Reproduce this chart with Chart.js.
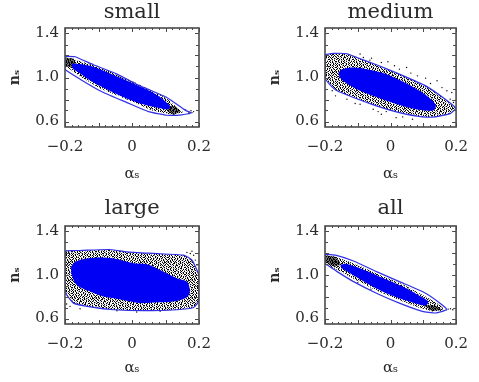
<!DOCTYPE html>
<html><head><meta charset="utf-8">
<style>html,body{margin:0;padding:0;background:#fff;width:479px;height:382px;overflow:hidden}
canvas{position:absolute;display:block}</style>
<script src="https://cdn.jsdelivr.net/npm/chart.js@4"></script></head><body>
<canvas id="c0" style="left:0;top:0"></canvas>
<canvas id="c1" style="left:240px;top:0"></canvas>
<canvas id="c2" style="left:0;top:190px"></canvas>
<canvas id="c3" style="left:240px;top:190px"></canvas>
<script>
const panelTitles = ['small','medium','large','all'];
const xTickValues = [-0.2,0,0.2];
const yTickValues = [0.6,1.0,1.4];
const xMinorStep = 0.02, yMinorStep = 0.1;

const smallContourX = [-0.2,-0.17,-0.115,-0.045,0.024,0.104,0.159,0.176,0.149,0.104,0.049,-0.015,-0.085,-0.155,-0.2,-0.2];
const smallContourY = [1.192,1.189,1.116,1.031,0.924,0.818,0.702,0.678,0.66,0.657,0.69,0.772,0.863,0.985,1.076,1.192];
const smallBlueX = [-0.18,-0.155,-0.115,-0.05,0.004,0.074,0.114,0.109,0.084,0.024,-0.045,-0.115,-0.155,-0.177,-0.18];
const smallBlueY = [1.128,1.122,1.097,1.015,0.945,0.842,0.742,0.712,0.721,0.763,0.848,0.955,1.037,1.085,1.128];
const smallBandX = [-0.2,-0.175,-0.105,-0.035,0.034,0.104,0.134,0.154,0.114,0.064,-0.015,-0.095,-0.155,-0.2,-0.2];
const smallBandY = [1.182,1.167,1.105,1.015,0.92,0.81,0.727,0.681,0.666,0.695,0.8,0.9,1.01,1.106,1.182];
const smallDenseAX = [-0.2,-0.175,-0.167,-0.18,-0.2,-0.2];
const smallDenseAY = [1.182,1.173,1.128,1.091,1.106,1.182];
const smallDenseBX = [0.104,0.129,0.146,0.124,0.106,0.104];
const smallDenseBY = [0.742,0.742,0.69,0.66,0.69,0.742];
const smallDotsX = [0.169,0.176,0.179,0.184,0.16,0.172];
const smallDotsY = [0.687,0.698,0.681,0.69,0.705,0.672];

const mediumContourX = [-0.2,-0.173,-0.133,-0.103,-0.043,0.027,0.107,0.167,0.199,0.182,0.137,0.097,0.027,-0.043,-0.113,-0.163,-0.188,-0.2,-0.2];
const mediumContourY = [1.207,1.219,1.216,1.182,1.116,1.031,0.924,0.803,0.721,0.672,0.642,0.642,0.681,0.742,0.818,0.879,0.945,1.0,1.207];
const mediumBlueX = [-0.158,-0.148,-0.113,-0.073,-0.023,0.037,0.097,0.137,0.132,0.097,0.037,-0.033,-0.093,-0.138,-0.155,-0.158];
const mediumBlueY = [1.046,1.076,1.091,1.076,1.04,0.964,0.863,0.757,0.702,0.702,0.742,0.812,0.879,0.955,1.0,1.046];
const mediumDotsX = [-0.083,-0.058,-0.028,-0.008,0.012,0.027,0.049,0.062,0.082,0.107,0.122,0.142,0.157,0.172,0.187,0.182,0.192,-0.063,-0.093,-0.178,-0.168,-0.133,-0.108,-0.093,-0.053,-0.038,-0.028,-0.013,0.017,0.037,0.067];
const mediumDotsY = [1.182,1.176,1.136,1.143,1.107,1.076,1.091,1.04,1.015,0.994,0.945,0.97,0.908,0.879,0.863,0.803,0.773,1.158,1.213,0.879,0.833,0.803,0.763,0.757,0.712,0.69,0.666,0.69,0.635,0.642,0.62];

const largeContourX = [-0.2,-0.155,-0.07,-0.016,0.064,0.154,0.179,0.199,0.199,0.184,0.134,0.034,-0.055,-0.115,-0.175,-0.195,-0.2,-0.2];
const largeContourY = [1.222,1.225,1.234,1.213,1.198,1.182,1.137,1.0,0.757,0.702,0.681,0.672,0.681,0.702,0.742,0.818,0.879,1.222];
const largeBlueX = [-0.182,-0.17,-0.135,-0.085,-0.045,0.004,0.044,0.084,0.134,0.166,0.172,0.159,0.124,0.064,0.024,-0.016,-0.045,-0.085,-0.125,-0.165,-0.18,-0.182];
const largeBlueY = [1.076,1.122,1.152,1.161,1.146,1.107,1.098,1.046,0.97,0.934,0.833,0.787,0.757,0.748,0.742,0.763,0.781,0.803,0.848,0.908,1.0,1.076];
const largeDotsX = [0.174,0.184,0.189,0.164,0.194,0.179,-0.185,-0.155,-0.195,0.014,0.084,-0.045];
const largeDotsY = [1.198,1.182,1.137,1.207,1.091,1.219,0.712,0.69,0.733,0.66,0.666,0.672];

const allContourX = [-0.2,-0.168,-0.113,-0.043,0.027,0.107,0.157,0.172,0.137,0.097,0.027,-0.043,-0.113,-0.163,-0.193,-0.2,-0.2];
const allContourY = [1.192,1.182,1.128,1.031,0.939,0.833,0.727,0.681,0.651,0.666,0.742,0.833,0.939,1.031,1.091,1.107,1.192];
const allBlueX = [-0.153,-0.138,-0.093,-0.033,0.037,0.087,0.115,0.107,0.057,-0.013,-0.073,-0.123,-0.148,-0.153];
const allBlueY = [1.091,1.103,1.061,0.985,0.894,0.812,0.757,0.72,0.757,0.833,0.924,1.015,1.061,1.091];
const allBandX = [-0.2,-0.168,-0.103,-0.033,0.037,0.107,0.157,0.162,0.127,0.087,0.027,-0.043,-0.113,-0.153,-0.183,-0.2,-0.2];
const allBandY = [1.182,1.167,1.097,1.0,0.915,0.803,0.712,0.672,0.666,0.7,0.77,0.858,0.965,1.031,1.076,1.122,1.182];
const allDenseAX = [-0.2,-0.168,-0.151,-0.173,-0.2,-0.2];
const allDenseAY = [1.182,1.167,1.097,1.076,1.122,1.182];
const allDenseBX = [0.097,0.137,0.159,0.127,0.097];
const allDenseBY = [0.727,0.721,0.681,0.666,0.727];
const allDotsX = [0.176,0.183,0.19,-0.1,-0.06];
const allDotsY = [0.687,0.69,0.681,0.93,0.87];

// speckle fill texture (style only): # black, + grey, . white
const speckleRows = [
"#.+#..#+#..+#.#+..#.##.+",
".#+..##.+.#.#++.#..#+.#.",
"+.#.#+..#.+#..#.+#.+.#.#",
"#..+.#.+##..+.#.#.#.#+..",
".##.+..#.+.#.#+..+.#..#+",
"#+.#.#.#..#+.#..##.+#.+.",
"..#+.++.#.+.##.+..#.+.#.",
"#.#..#.#+.#..+.#.#+.#..#",
"+.+#.#..#+..#.#.+.#.#+.+",
".#..+.##.+#.+#..#..+.#.#",
"#.+#.#.+..#.#.+#.+#..#+.",
".#.#..+#.#+..#.#..#.#+.#",
"+#..#.+.#..#+.+.##.+.#..",
"#.+.#+#..+.#.#..+.#.#.+#",
".#.#...#.#+.+#.#.#+..#..",
"#+.+#.#+.#..#..#.+.#.+#.",
"..#.#.+.#.+#.+#..#.#+..#",
"#.#+.#.#..#.#..+#.+.#.#+"];
function makePattern(black,grey,white){
  const t=document.createElement('canvas');
  t.width=speckleRows[0].length; t.height=speckleRows.length;
  const g=t.getContext('2d');
  speckleRows.forEach((r,y)=>[...r].forEach((ch,x)=>{
    g.fillStyle= ch==='#'?black:ch==='+'?grey:white;
    g.fillRect(x,y,1,1);
  }));
  return g.createPattern(t,'repeat');
}
const pts=(xs,ys)=>xs.map((x,i)=>({x,y:ys[i]}));
const speckle=makePattern('#000','#a8a8a8','#fff');
const denseFill=makePattern('#000','#000','#6a6a6a');
const BLUE='#0000f4', LINE='#3030e8', FRAME='#4a4a4a', INK='#2a2a2a';
const fillSet=(xs,ys,color,z)=>({data:pts(xs,ys),backgroundColor:color,borderWidth:0,fill:'shape',pointRadius:0,tension:z==2?0.3:0,order:z});
const lineSet=(xs,ys)=>({data:pts(xs,ys),borderColor:LINE,borderWidth:1.2,fill:false,pointRadius:0,tension:0.15,order:0});
const dotSet=(xs,ys)=>({data:pts(xs,ys),showLine:false,pointRadius:0.7,pointBorderWidth:0,pointBackgroundColor:'#000',order:1});

const panelSets=[
 [fillSet(smallBandX,smallBandY,speckle,4),fillSet(smallDenseAX,smallDenseAY,denseFill,3),fillSet(smallDenseBX,smallDenseBY,denseFill,3),fillSet(smallBlueX,smallBlueY,BLUE,2),dotSet(smallDotsX,smallDotsY),lineSet(smallContourX,smallContourY)],
 [fillSet(mediumContourX,mediumContourY,speckle,4),fillSet(mediumBlueX,mediumBlueY,BLUE,2),dotSet(mediumDotsX,mediumDotsY),lineSet(mediumContourX,mediumContourY)],
 [fillSet(largeContourX,largeContourY,speckle,4),fillSet(largeBlueX,largeBlueY,BLUE,2),dotSet(largeDotsX,largeDotsY),lineSet(largeContourX,largeContourY)],
 [fillSet(allBandX,allBandY,speckle,4),fillSet(allDenseAX,allDenseAY,denseFill,3),fillSet(allDenseBX,allDenseBY,denseFill,3),fillSet(allBlueX,allBlueY,BLUE,2),dotSet(allDotsX,allDotsY),lineSet(allContourX,allContourY)]
];

const framePlugin={id:'frame',afterDatasetsDraw(c){
  const {ctx,chartArea:a,scales:{x,y}}=c;
  ctx.save();ctx.strokeStyle=FRAME;ctx.lineWidth=1;
  ctx.beginPath();
  for(let i=-10;i<=10;i++){const v=i*xMinorStep,p=Math.round(x.getPixelForValue(v))+.5,len=i%5===0?4:2;
    ctx.moveTo(p,a.top);ctx.lineTo(p,a.top+len);ctx.moveTo(p,a.bottom);ctx.lineTo(p,a.bottom-len);}
  for(let i=6;i<=14;i++){const v=i*yMinorStep,p=Math.round(y.getPixelForValue(v))+.5,len=i%2===0?4:3;
    ctx.moveTo(a.left,p);ctx.lineTo(a.left+len,p);ctx.moveTo(a.right,p);ctx.lineTo(a.right-len,p);}
  ctx.stroke();
  ctx.lineWidth=1.6;ctx.strokeRect(a.left,a.top,a.right-a.left,a.bottom-a.top);
  ctx.restore();
}};
const geom=[
 {w:240,h:190,axisW:65,padR:41,padT:0,titleB:3,axisH:63,xTitleB:8,yTitleT:8},
 {w:239,h:190,axisW:85,padR:21,padT:0,titleB:3,axisH:63,xTitleB:8,yTitleT:28},
 {w:240,h:192,axisW:65,padR:41,padT:6,titleB:5,axisH:58,xTitleB:6,yTitleT:8},
 {w:239,h:192,axisW:85,padR:21,padT:6,titleB:5,axisH:58,xTitleB:6,yTitleT:28}
];
Chart.defaults.font.family='"DejaVu Serif"';
panelTitles.forEach((name,i)=>{
  const g=geom[i],cv=document.getElementById('c'+i);
  cv.width=g.w;cv.height=g.h;cv.style.width=g.w+'px';cv.style.height=g.h+'px';
  new Chart(cv,{type:'line',data:{datasets:panelSets[i]},plugins:[framePlugin],options:{
    responsive:false,animation:false,devicePixelRatio:1,
    layout:{padding:{left:0,right:g.padR,top:g.padT,bottom:0}},
    plugins:{legend:{display:false},tooltip:{enabled:false},
      title:{display:true,fullSize:false,text:name,color:INK,font:{size:21,weight:'normal',lineHeight:'25px'},padding:{top:0,bottom:g.titleB}}},
    scales:{
      x:{type:'linear',min:-0.2,max:0.2,grid:{display:false,drawTicks:false},border:{display:false},
        afterBuildTicks(s){s.ticks=xTickValues.map(value=>({value}));},
        afterFit(s){s.height=g.axisH;},
        ticks:{autoSkip:false,maxRotation:0,padding:11,color:INK,font:{size:15},callback:v=>v===0?'0':String(v).replace('-','\u2212')},
        title:{display:true,text:'\u03b1\u209b',color:INK,font:{size:15,lineHeight:1},padding:{top:0,bottom:g.xTitleB}}},
      y:{type:'linear',min:0.55,max:1.45,grid:{display:false,drawTicks:false},border:{display:false},
        afterBuildTicks(s){s.ticks=yTickValues.map(value=>({value}));},
        afterFit(s){s.width=g.axisW;},
        ticks:{autoSkip:false,padding:6,color:INK,font:{size:15},callback:v=>v.toFixed(1)},
        title:{display:true,text:'n\u209b',color:INK,font:{size:14,weight:'bold',lineHeight:1},padding:{top:g.yTitleT,bottom:0}}}
    }}});
});
</script></body></html>
